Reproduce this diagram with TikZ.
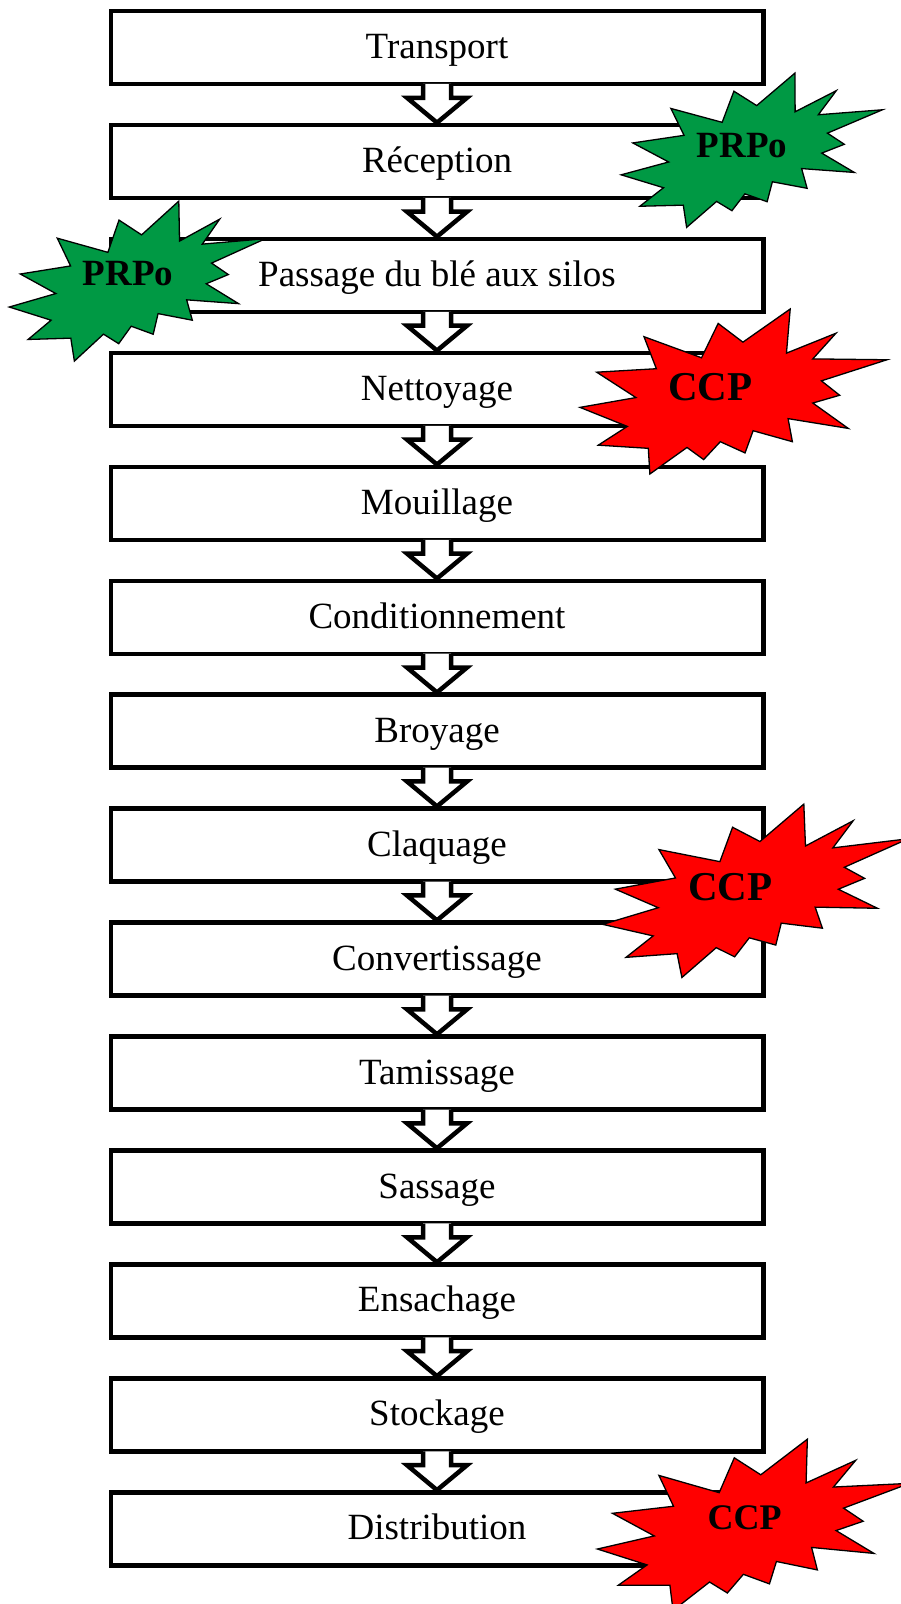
\documentclass[tikz,border=0pt]{standalone}
\usepackage{fontspec}
\setmainfont{Liberation Serif}
\usetikzlibrary{calc}

\definecolor{prpogreen}{RGB}{0,153,68}
\definecolor{ccpred}{RGB}{255,0,0}

\tikzset{
  stepbox/.style={draw=black, line width=4.5pt, fill=white,
    minimum width=652.5pt, minimum height=73pt, inner sep=0pt,
    text height=32pt, text depth=10pt,
    font=\fontsize{37}{44}\selectfont},
  flowline/.style={draw=black, line width=4.5pt, line join=miter},
  burstline/.style={draw=black, line width=1.3pt, line join=miter},
  burstlabel/.style={inner sep=0pt, font=\bfseries\fontsize{#1}{#1}\selectfont},
}

% Hollow block arrow from the bottom of one step to the top of the next
\newcommand\flowarrow[2]{%
  \fill[white] ($(#1.south)+(-14,-2.3)$) -- ($(#1.south)+(-14,11.5)$)
    -- ($(#1.south)+(-30,11.5)$) -- (#2.north) -- ($(#1.south)+(30,11.5)$)
    -- ($(#1.south)+(14,11.5)$) -- ($(#1.south)+(14,-2.3)$) -- cycle;
  \draw[flowline] ($(#1.south)+(-14,-2.25)$) -- ($(#1.south)+(-14,11.5)$)
    -- ($(#1.south)+(-30,11.5)$) -- (#2.north) -- ($(#1.south)+(30,11.5)$)
    -- ($(#1.south)+(14,11.5)$) -- ($(#1.south)+(14,-2.25)$);
}

% Explosion badge: centre x, centre y, width, height, rotation, fill colour
\newcommand\explosion[6]{%
  \begin{scope}[shift={(#1,#2)}, rotate=#5, xscale=#3/100, yscale=#4/100]
    \filldraw[burstline, fill=#6]
      (3.06,-29.90) -- (18.47,-50) -- (17.25,-23.25) -- (33.37,-35.31)
      -- (25.83,-19.76) -- (50,-19.24) -- (28.63,-6.47) -- (34.58,2.27)
      -- (25.83,6.99) -- (37.39,22.37) -- (17.78,16.44) -- (19.18,30.42)
      -- (6.39,23.77) -- (3.76,37.23) -- (-4.30,30.42) -- (-9.72,41.26)
      -- (-15.15,33.91) -- (-27.24,50) -- (-27.75,34.44) -- (-44.05,32.52)
      -- (-34.58,21.16) -- (-50,9.62) -- (-31.78,3.67) -- (-44.57,-11.71)
      -- (-25.13,-13.81) -- (-29.16,-33.22) -- (-10.42,-20.45) -- (-4.99,-41.26)
      -- cycle;
  \end{scope}}

\begin{document}
\begin{tikzpicture}[x=1pt,y=-1pt]
\useasboundingbox (0,0) rectangle (901,1604);
\clip (0,0) rectangle (901,1604);

% process steps
\node[stepbox] (s1)  at (437,47.5)    {Transport};
\node[stepbox] (s2)  at (437,161.45)  {Réception};
\node[stepbox] (s3)  at (437,275.4)   {Passage du blé aux silos};
\node[stepbox] (s4)  at (437,389.35)  {Nettoyage};
\node[stepbox] (s5)  at (437,503.3)   {Mouillage};
\node[stepbox] (s6)  at (437,617.25)  {Conditionnement};
\node[stepbox] (s7)  at (437,731.2)   {Broyage};
\node[stepbox] (s8)  at (437,845.15)  {Claquage};
\node[stepbox] (s9)  at (437,959.1)   {Convertissage};
\node[stepbox] (s10) at (437,1073.05) {Tamissage};
\node[stepbox] (s11) at (437,1187.0)  {Sassage};
\node[stepbox] (s12) at (437,1300.95) {Ensachage};
\node[stepbox] (s13) at (437,1414.9)  {Stockage};
\node[stepbox] (s14) at (437,1528.85) {Distribution};

% arrows between consecutive steps
\foreach \a/\b in {s1/s2,s2/s3,s3/s4,s4/s5,s5/s6,s6/s7,s7/s8,s8/s9,
                   s9/s10,s10/s11,s11/s12,s12/s13,s13/s14}
  \flowarrow{\a}{\b};

% PRPo badges
\explosion{752.4}{149.2}{266}{144}{5.1}{prpogreen}
\node[burstlabel=37] (prpoA) at (742,146) {PRPo};
\explosion{138}{280}{261.5}{149}{5.6}{prpogreen}
\node[burstlabel=37] (prpoB) at (128,274) {PRPo};

% CCP badges
\explosion{733.5}{391.5}{307}{165}{0}{ccpred}
\node[burstlabel=41] (ccpA) at (710.5,387) {CCP};
\explosion{756.5}{889}{314}{156}{7.5}{ccpred}
\node[burstlabel=41] (ccpB) at (730.5,887) {CCP};
\explosion{754}{1524}{315.6}{163}{3.4}{ccpred}
\node[burstlabel=36] (ccpC) at (744.7,1517.5) {CCP};
\end{tikzpicture}
\end{document}
